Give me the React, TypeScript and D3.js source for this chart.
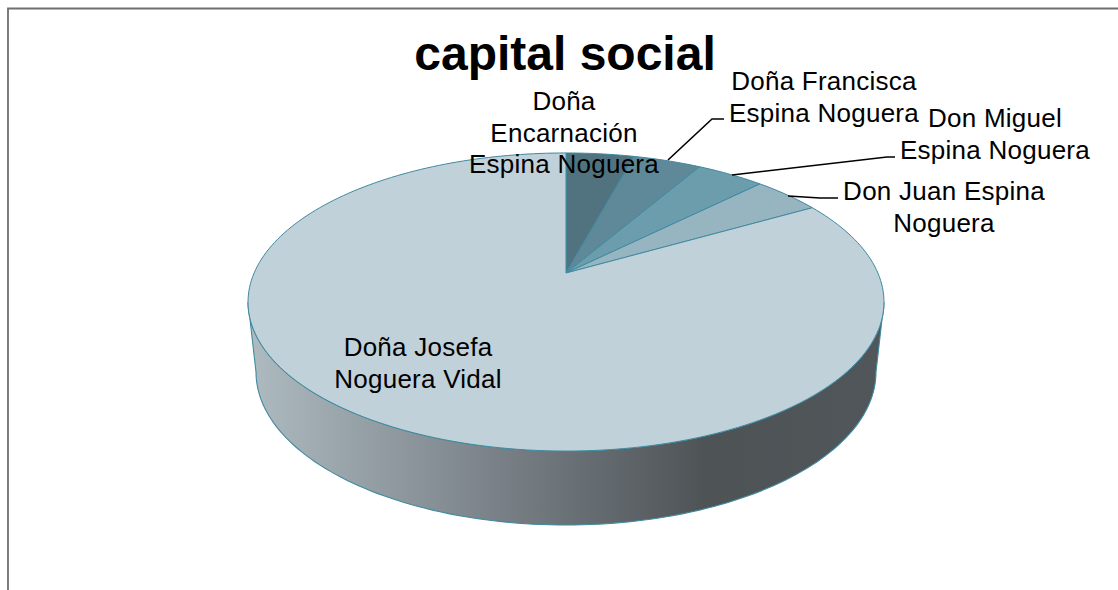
import * as d3 from "d3";

const names = [
  "Doña Encarnación Espina Noguera",
  "Doña Francisca Espina Noguera",
  "Don Miguel Espina Noguera",
  "Don Juan Espina Noguera",
  "Doña Josefa Noguera Vidal",
];
const shares = [4.17, 4.17, 4.17, 4.17, 83.33];
const sliceColours = ["#50737f", "#5f8998", "#6b9dad", "#97b5c1", "#c1d1d9"];

const labelLines = [
  ["Doña", "Encarnación", "Espina Noguera"],
  ["Doña Francisca", "Espina Noguera"],
  ["Don Miguel", "Espina Noguera"],
  ["Don Juan Espina", "Noguera"],
  ["Doña Josefa", "Noguera Vidal"],
];
const labelSpots = [
  [564, 110],
  [824, 90],
  [995, 127],
  [944, 200],
  [418, 356],
];
const leaders = [
  null,
  [[668, 160], [712, 119], [724, 119]],
  [[732, 175], [887, 157], [895, 157]],
  [[788, 196], [820, 198], [838, 198]],
  null,
];

// perspective disc: far side is squeezed, so the apex sits above the ellipse centre
const apex = { x: 566, y: 273 };
const squeeze = 0.1946;
const radiusX = 311.9;
const radiusY = 143.4;
const bottom = { cx: 566, cy: 372, rx: 310, ry: 153 };

function project(t: number): [number, number] {
  const w = 1 + squeeze * Math.cos(t);
  return [apex.x + (radiusX * Math.sin(t)) / w, apex.y - (radiusY * Math.cos(t)) / w];
}

const line = d3.line();
const pie = d3.pie<number>().sort(null);
const arcs = pie(shares);

function slicePath(start: number, end: number) {
  const n = Math.max(2, Math.ceil((end - start) * 40));
  const pts = d3.range(n + 1).map((i) => project(start + ((end - start) * i) / n));
  return line([[apex.x, apex.y], ...pts]) + "Z";
}

function sidePath() {
  const steps = d3.range(121).map((i) => (i * Math.PI) / 120);
  const lower = steps.map(
    (a) => [bottom.cx + bottom.rx * Math.cos(a), bottom.cy + bottom.ry * Math.sin(a)] as [number, number]
  );
  const upper = steps
    .slice()
    .reverse()
    .map((a) => [566 + 318 * Math.cos(a), 302 + 149 * Math.sin(a)] as [number, number]);
  return line([...lower, ...upper]) + "Z";
}

export default function App() {
  const font = "'Liberation Sans', Arial, sans-serif";
  return (
    <svg
      width={1118}
      height={590}
      style={{ position: "absolute", left: 0, top: 0, background: "#fff" }}
    >
      <defs>
        <linearGradient id="side" gradientUnits="userSpaceOnUse" x1={248} x2={884} y1={0} y2={0}>
          <stop offset="0" stopColor="#aebbc0" />
          <stop offset="0.42" stopColor="#757d83" />
          <stop offset="0.72" stopColor="#4e5356" />
          <stop offset="1" stopColor="#505659" />
        </linearGradient>
      </defs>

      <path d="M8 590V8.5H1118" fill="none" stroke="#6f6f6f" strokeWidth={1.8} />

      <path d={sidePath()} fill="url(#side)" stroke="#3f8aa0" strokeWidth={1.1} />
      {arcs.map((a, i) => (
        <path
          key={names[i]}
          d={slicePath(a.startAngle, a.endAngle)}
          fill={sliceColours[i]}
          stroke="#3f8aa0"
          strokeWidth={1}
        />
      ))}

      {leaders.map((pts, i) =>
        pts ? (
          <path
            key={i}
            d={line(pts as [number, number][]) ?? ""}
            fill="none"
            stroke="#000"
            strokeWidth={1.6}
          />
        ) : null
      )}

      <text x={565} y={70} textAnchor="middle" fontFamily={font} fontWeight="bold" fontSize={48}>
        capital social
      </text>
      {labelLines.map((rows, i) =>
        rows.map((row, j) => (
          <text
            key={row + i}
            x={labelSpots[i][0]}
            y={labelSpots[i][1] + j * 31.5}
            textAnchor="middle"
            fontFamily={font}
            fontSize={26}
            letterSpacing={0.25}
          >
            {row}
          </text>
        ))
      )}
    </svg>
  );
}
